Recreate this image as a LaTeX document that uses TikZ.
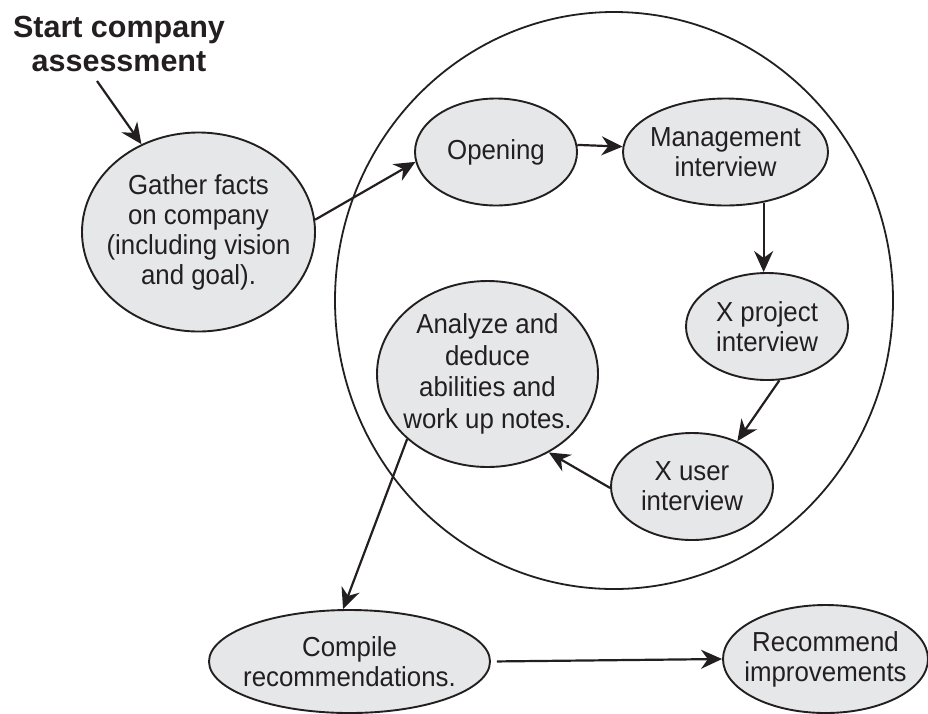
\documentclass[tikz,border=0pt]{standalone}
\usepackage{fontspec}
\setmainfont{Liberation Sans}
\newfontfamily\bubblefont[FakeStretch=0.94]{Liberation Sans}
\usetikzlibrary{shapes.geometric,arrows.meta}
\definecolor{bubblegray}{RGB}{230,231,232}
\definecolor{inkblack}{RGB}{35,31,32}

\begin{document}
\begin{tikzpicture}[x=1pt, y=-1pt,
  bubble/.style={ellipse, draw=inkblack, line width=1.9pt, fill=bubblegray, inner sep=-30pt,
    align=center, text=inkblack, font=\bubblefont\fontsize{27.5}{30}\selectfont},
  flow/.style={-{Stealth[length=21pt,width=19pt]}, line width=2.2pt, draw=inkblack}]

\useasboundingbox (0,0) rectangle (928,713);

% draw the big loop
\node[ellipse, draw=inkblack, line width=1.8pt, minimum width=558pt, minimum height=577pt] (loop) at (614,300.5) {};

% draw steps
\node[font=\bfseries\fontsize{30.5}{34}\selectfont, align=center, text=inkblack, inner sep=0pt] (start) at (119,44) {Start company\\assessment};
\node[bubble, minimum width=233pt, minimum height=199pt] (gather) at (198.5,232) {Gather facts\\on company\\(including vision\\and goal).};
\node[bubble, minimum width=162pt, minimum height=107pt] (opening) at (496,152) {Opening};
\node[bubble, minimum width=205pt, minimum height=107pt] (mgmt) at (725.5,152) {Management\\interview};
\node[bubble, minimum width=162pt, minimum height=107pt] (xproj) at (767,326.5) {X project\\interview};
\node[bubble, minimum width=162pt, minimum height=107pt] (xuser) at (692,486.5) {X user\\interview};
\node[bubble, minimum width=221pt, minimum height=186pt, font=\bubblefont\fontsize{27.5}{31.5}\selectfont] (analyze) at (487.5,374) {Analyze and\\deduce\\abilities and\\work up notes.};
\node[bubble, minimum width=281pt, minimum height=103pt] (compile) at (349.5,661.5) {Compile\\recommendations.};
\node[bubble, minimum width=205pt, minimum height=108pt] (recommend) at (825.5,659) {Recommend\\improvements};

% draw arrows
\draw[flow] ([xshift=-22pt,yshift=-9pt]start.south) -- (gather.123);
\draw[flow] (gather.6) -- (opening.187);
\draw[flow] (opening.5) -- (mgmt.177);
\draw[flow] (mgmt.-53) -- (mgmt.-53 |- xproj.north);
\draw[flow] (xproj.-77) -- (xuser.45);
\draw[flow] (xuser.181) -- (analyze.-52);
\draw[flow] (analyze.-141) -- (compile.97);
\draw[flow, shorten <=6pt] (compile.east) -- (recommend.west);

\end{tikzpicture}
\end{document}
